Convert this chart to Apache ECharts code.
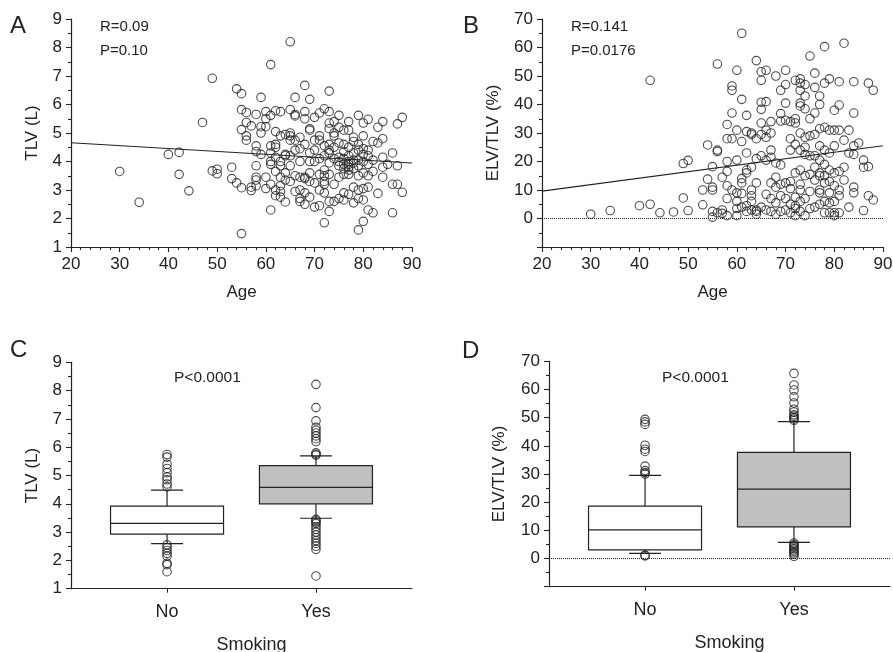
<!DOCTYPE html>
<html>
<head>
<meta charset="utf-8">
<script src="https://cdn.jsdelivr.net/npm/echarts@6/dist/echarts.min.js"></script>
<style>
  html, body { margin: 0; padding: 0; background: #fff; }
  #main { width: 893px; height: 652px; }
</style>
</head>
<body>
<div id="main"></div>
<script>
// ---- data ----
// panel A: age vs TLV (L)
var tlvByAge = [
  [30,3.65],[34,2.57],[40,4.25],[42.2,4.32],[42.2,3.55],[44.2,2.97],[47,5.37],[49,6.92],[49,3.67],[50,3.73],
  [50,3.57],[53,3.8],[53,3.4],[54,3.25],[54,6.55],[55,6.38],[55,3.08],[55,1.47],[55,5.82],[55,5.12],
  [56,5.72],[56,5.37],[56,4.9],[56,4.75],[57,5.25],[57,3.1],[57,2.98],[58,5.65],[58,4.55],[58,4.35],
  [58,3.85],[58,3.45],[58,3.35],[58,3.15],[59,6.25],[59,5.22],[59,5.0],[59,4.25],[60,5.75],[60,5.5],
  [60,5.22],[60,3.45],[60,3.05],[61,7.4],[61,5.62],[61,4.55],[61,4.3],[61,4.0],[61,3.9],[61,3.2],
  [61,2.3],[62,5.78],[62,5.05],[62,4.6],[62,4.5],[62,3.65],[62,3.0],[62,2.8],[63,5.75],[63,4.9],
  [63,4.0],[63,3.85],[63,3.45],[63,2.95],[63,2.75],[64,4.25],[64,4.2],[64,3.6],[64,3.35],[64,2.58],
  [65,8.2],[65,5.82],[65,5.0],[65,4.9],[65,4.75],[65,4.2],[65,3.85],[66,6.25],[66,5.6],[66,5.65],
  [66,4.4],[66,3.5],[66,2.95],[67,4.85],[67,4.45],[67,4.0],[67,3.0],[67,2.7],[67,2.6],[68,6.67],
  [68,5.75],[68,5.5],[68,4.6],[68,3.45],[68,3.4],[68,2.9],[68,2.5],[69,6.18],[69,5.15],[69,5.1],
  [69,4.3],[69,4.0],[69,3.6],[69,3.3],[69,2.75],[70,5.55],[70,4.4],[70,4.0],[70,3.25],[70,2.4],
  [71,5.7],[71,4.9],[71,4.75],[71,4.1],[71,3.0],[71,2.45],[72,5.85],[72,4.55],[72,3.7],[72,3.5],
  [72,3.3],[72,3.2],[72,2.9],[72,1.85],[73,6.47],[73,5.75],[73,5.35],[73,5.15],[73,4.6],[73,4.4],
  [73,4.3],[73,3.95],[73,2.6],[73,2.25],[74,5.4],[74,5.0],[74,4.9],[74,4.5],[74,3.2],[74,2.6],
  [75,5.62],[75,5.2],[75,4.65],[75,4.15],[75,4.0],[75,3.85],[75,2.7],[76,5.1],[76,4.6],[76,4.1],
  [76,3.9],[76,3.75],[76,2.9],[76,2.65],[77,5.4],[77,5.1],[77,4.5],[77,4.0],[77,3.9],[77,3.8],
  [77,3.7],[77,3.55],[77,2.85],[78,4.85],[78,4.7],[78,4.3],[78,4.05],[78,3.95],[78,3.1],[78,2.55],
  [79,5.62],[79,4.6],[79,4.4],[79,4.05],[79,3.5],[79,3.0],[79,2.7],[79,1.6],[80,5.35],[80,4.9],
  [80,4.25],[80,4.0],[80,3.6],[80,3.05],[80,2.65],[80,1.9],[81,5.48],[81,4.4],[81,4.2],[81,3.9],
  [81,3.5],[81,3.1],[81,2.3],[82,4.7],[82,4.05],[82,3.65],[82,2.2],[83,5.2],[83,4.65],[83,2.88],
  [84,5.4],[84,4.8],[84,4.15],[84,3.8],[84,3.45],[85,3.9],[86,4.3],[86,3.2],[86,2.2],[87,5.32],
  [87,3.85],[87,3.2],[88,5.55],[88,2.92],
  [62,4.15],[64,4.95],[66,4.75],[70,4.75],[72,4.2],[74,4.1],[76,4.35],[77,4.2],[78,3.75],[79,3.85],
  [80,4.45],[76,3.55],[75,3.45],[73,3.55],[71,3.55],[67,3.45],[65,3.3],[63,3.15]
];
var tlvFit = [[20, 4.66], [90, 3.95]];

// panel B: age vs ELV/TLV (%)
var elvByAge = [
  [30,1.5],[34,2.8],[40,4.5],[42.2,5.0],[42.2,48.5],[44.2,2.0],[47,2.3],[49,7.2],[49,19.3],[50,20.4],
  [50,2.8],[53,4.8],[53,10.0],[54,25.8],[54,13.8],[55,18.2],[55,11.0],[55,10.0],[55,2.5],[55,0.5],
  [56,54.2],[56,24.0],[56,23.5],[56,2.0],[57,14.5],[57,3.0],[57,1.8],[58,33.0],[58,28.0],[58,20.0],
  [58,16.5],[58,11.5],[58,7.0],[58,1.0],[59,46.5],[59,45.0],[59,37.0],[59,28.0],[59,10.0],[60,52.0],
  [60,31.0],[60,20.5],[60,9.0],[60,6.0],[60,3.5],[60,1.0],[61,65.0],[61,41.8],[61,27.0],[61,14.0],
  [61,12.5],[61,8.8],[62,36.2],[62,30.5],[62,23.0],[62,17.0],[62,16.0],[62,4.5],[62,2.5],[63,30.0],
  [63,29.5],[63,10.0],[63,8.0],[63,6.0],[63,3.0],[64,55.4],[64,28.0],[64,21.0],[64,12.5],[64,2.5],
  [64,1.5],[65,51.5],[65,48.5],[65,40.8],[65,38.3],[65,33.5],[65,29.5],[65,22.0],[65,4.0],[66,52.0],
  [66,41.0],[66,31.0],[66,28.5],[66,20.5],[66,3.0],[67,34.0],[67,30.0],[67,24.0],[67,21.5],[67,12.5],
  [67,7.0],[67,2.5],[68,50.0],[68,19.5],[68,14.5],[68,11.0],[68,5.5],[68,1.5],[69,45.0],[69,36.8],
  [69,34.2],[69,18.8],[69,12.0],[69,8.0],[69,2.5],[70,52.0],[70,47.0],[70,40.5],[70,34.5],[70,12.5],
  [70,3.0],[71,34.0],[71,28.0],[71,24.0],[71,13.0],[71,5.0],[71,2.0],[72,48.5],[72,35.0],[72,33.5],
  [72,16.0],[72,7.5],[72,3.5],[72,1.0],[73,49.0],[73,47.5],[73,45.0],[73,40.5],[73,39.5],[73,30.0],
  [73,24.0],[73,17.0],[73,10.0],[73,6.0],[73,2.5],[74,47.0],[74,43.0],[74,38.5],[74,28.5],[74,25.0],
  [74,22.5],[74,15.0],[74,7.0],[74,1.0],[75,57.0],[75,35.0],[75,29.0],[75,22.0],[75,9.5],[75,3.5],
  [76,51.0],[76,46.0],[76,37.0],[76,22.0],[76,18.0],[76,13.5],[76,4.0],[77,43.0],[77,40.0],[77,31.5],
  [77,25.5],[77,16.0],[77,15.0],[77,10.0],[77,9.0],[77,5.0],[78,60.3],[78,47.5],[78,32.0],[78,24.0],
  [78,19.0],[78,12.5],[78,6.0],[78,2.0],[79,49.0],[79,23.0],[79,17.0],[79,13.0],[79,9.0],[79,5.5],
  [79,2.0],[80,38.0],[80,31.0],[80,25.5],[80,16.0],[80,6.0],[80,2.0],[80,1.0],[81,48.0],[81,39.8],
  [81,31.0],[81,10.0],[81,8.0],[81,2.0],[82,61.5],[82,27.5],[82,18.0],[82,13.5],[83,31.0],[83,23.0],
  [83,4.0],[84,48.0],[84,37.0],[84,25.5],[84,22.5],[84,11.0],[84,9.0],[85,26.5],[86,20.5],[86,18.0],
  [86,2.8],[87,47.5],[87,18.2],[87,8.0],[88,45.0],[88,6.5],
  [64,3.0],[66,8.5],[70,7.0],[71,10.5],[72,26.0],[75,15.5],[76,29.5],[77,20.5],[79,31.0],[80,11.5],
  [81,16.5],[72,4.5],[73,12.0],[78,15.0],[63,18.0],[61,4.0]
];
var elvFit = [[20, 9.6], [90, 25.5]];

// panels C/D: smoking groups
var smoking = ['No', 'Yes'];
// [group, lower whisker, Q1, median, Q3, upper whisker]
var tlvBoxes = [[0, 2.59, 2.93, 3.31, 3.92, 4.48], [1, 3.49, 4.0, 4.58, 5.35, 5.69]];
var tlvOutliers = [
  [0,5.74],[0,5.65],[0,5.4],[0,5.25],[0,5.1],[0,4.95],[0,4.85],[0,4.7],[0,4.6],
  [0,2.55],[0,2.45],[0,2.35],[0,2.25],[0,2.15],[0,1.9],[0,1.85],[0,1.6],
  [1,8.22],[1,7.4],[1,6.93],[1,6.7],[1,6.6],[1,6.5],[1,6.4],[1,6.3],[1,6.2],[1,5.8],[1,5.75],[1,5.72],
  [1,3.45],[1,3.4],[1,3.35],[1,3.3],[1,3.2],[1,3.1],[1,3.0],[1,2.9],[1,2.8],[1,2.7],[1,2.6],[1,2.5],[1,2.39],[1,1.45]
];
var elvBoxes = [[0, 1.8, 3.1, 10.2, 18.6, 29.5], [1, 5.7, 11.25, 24.6, 37.7, 48.6]];
var elvOutliers = [
  [0,49.4],[0,48.5],[0,47.6],[0,40.2],[0,38.8],[0,38.0],[0,32.8],[0,31.2],[0,30.5],[0,30.0],
  [0,1.2],[0,0.95],
  [1,65.7],[1,61.6],[1,59.8],[1,57.4],[1,55.2],[1,53.0],[1,52.0],[1,51.0],[1,50.5],[1,50.0],[1,49.5],[1,49.0],
  [1,5.5],[1,5.0],[1,4.5],[1,4.0],[1,3.5],[1,3.0],[1,2.5],[1,2.0],[1,1.5],[1,0.8]
];

// ---- chart ----
var INK = '#222';
var FONT = '"Liberation Sans", Arial, Helvetica, sans-serif';
var boxFills = ['#ffffff', '#c0c0c0'];

var myChart = echarts.init(document.getElementById('main'));

function valueAxis(idx, min, max, interval, minorSplit, extra) {
  var ax = {
    gridIndex: idx, type: 'value', min: min, max: max, interval: interval,
    axisLine: { show: true, onZero: false, lineStyle: { color: INK, width: 1.2 } },
    axisTick: { show: true, length: 5, lineStyle: { color: INK, width: 1.1 } },
    minorTick: { show: true, splitNumber: minorSplit, length: 3, lineStyle: { color: INK, width: 1.1 } },
    splitLine: { show: false },
    minorSplitLine: { show: false },
    axisLabel: { color: INK, fontFamily: FONT, fontSize: 17, margin: 9 },
    nameLocation: 'middle',
    nameTextStyle: { color: INK, fontFamily: FONT, fontSize: 17 }
  };
  return Object.assign(ax, extra || {});
}

function groupAxis(idx) {
  return {
    gridIndex: idx, type: 'value', min: -0.645, max: 1.645,
    axisLine: { show: true, onZero: false, lineStyle: { color: INK, width: 1.2 } },
    axisTick: { show: true, length: 4, customValues: [0, 1], lineStyle: { color: INK } },
    splitLine: { show: false },
    axisLabel: {
      customValues: [0, 1], color: INK, fontFamily: FONT, fontSize: 18, margin: 14,
      formatter: function (v) { return smoking[Math.round(v)]; }
    },
    name: 'Smoking', nameLocation: 'middle', nameGap: 47,
    nameTextStyle: { color: INK, fontFamily: FONT, fontSize: 18, padding: [0, 0, 0, 20] }
  };
}

var hideMinus10 = function (v) { return v < 0 ? '' : v; };

function renderBox(params, api) {
  var x = api.value(0);
  var lo = api.coord([x, api.value(1)]);
  var q1 = api.coord([x, api.value(2)]);
  var med = api.coord([x, api.value(3)]);
  var q3 = api.coord([x, api.value(4)]);
  var hi = api.coord([x, api.value(5)]);
  var cx = q1[0], half = 56.5, cap = 16;
  var st = { stroke: INK, lineWidth: 1.2 };
  return {
    type: 'group',
    children: [
      { type: 'line', shape: { x1: cx, y1: q3[1], x2: cx, y2: hi[1] }, style: st },
      { type: 'line', shape: { x1: cx, y1: q1[1], x2: cx, y2: lo[1] }, style: st },
      { type: 'line', shape: { x1: cx - cap, y1: hi[1], x2: cx + cap, y2: hi[1] }, style: st },
      { type: 'line', shape: { x1: cx - cap, y1: lo[1], x2: cx + cap, y2: lo[1] }, style: st },
      { type: 'rect', shape: { x: cx - half, y: q3[1], width: half * 2, height: q1[1] - q3[1] },
        style: { fill: boxFills[params.dataIndex], stroke: INK, lineWidth: 1.2 } },
      { type: 'line', shape: { x1: cx - half, y1: med[1], x2: cx + half, y2: med[1] }, style: st }
    ]
  };
}

var circle = {
  type: 'scatter', symbol: 'circle', symbolSize: 8.5,
  itemStyle: { color: 'transparent', borderColor: INK, borderWidth: 1.1 },
  silent: true
};

var zeroLine = {
  silent: true, symbol: ['none', 'none'], label: { show: false },
  lineStyle: { color: INK, type: 'dotted', width: 1 },
  data: [{ yAxis: 0 }]
};

function text(x, y, s, size) {
  return { type: 'text', x: x, y: y, style: { text: s, fill: INK, font: size + 'px ' + FONT, verticalAlign: 'top' } };
}

option = {
  backgroundColor: '#fff',
  animation: false,
  grid: [
    { left: 71, top: 19, width: 341, height: 228, outerBoundsMode: 'none' },
    { left: 542, top: 19, width: 341, height: 228, outerBoundsMode: 'none' },
    { left: 71, top: 362.3, width: 341, height: 226.4, outerBoundsMode: 'none' },
    { left: 549, top: 361.3, width: 341, height: 225.4, outerBoundsMode: 'none' }
  ],
  xAxis: [
    valueAxis(0, 20, 90, 10, 5, { name: 'Age', nameGap: 37 }),
    valueAxis(1, 20, 90, 10, 5, { name: 'Age', nameGap: 37 }),
    groupAxis(2),
    groupAxis(3)
  ],
  yAxis: [
    valueAxis(0, 1, 9, 1, 2, { name: 'TLV (L)', nameGap: 30 }),
    valueAxis(1, -10, 70, 10, 2, { name: 'ELV/TLV (%)', nameGap: 40 }),
    valueAxis(2, 1, 9, 1, 2, { name: 'TLV (L)', nameGap: 30 }),
    valueAxis(3, -10, 70, 10, 2, { name: 'ELV/TLV (%)', nameGap: 41 })
  ],
  graphic: [
    text(10, 14.5, 'A', 24), text(463, 14.5, 'B', 24),
    text(10, 338.5, 'C', 24), text(462, 339, 'D', 24),
    text(100, 19.5, 'R=0.09', 15), text(100, 43.8, 'P=0.10', 15),
    text(571, 19.5, 'R=0.141', 15), text(571, 43.8, 'P=0.0176', 15),
    text(174, 370, 'P<0.0001', 15.5), text(662, 370, 'P<0.0001', 15.5)
  ],
  series: [
    Object.assign({}, circle, { xAxisIndex: 0, yAxisIndex: 0, data: tlvByAge }),
    { type: 'line', xAxisIndex: 0, yAxisIndex: 0, data: tlvFit, symbol: 'none', silent: true,
      lineStyle: { color: INK, width: 1.1 } },
    Object.assign({}, circle, { xAxisIndex: 1, yAxisIndex: 1, data: elvByAge, markLine: zeroLine }),
    { type: 'line', xAxisIndex: 1, yAxisIndex: 1, data: elvFit, symbol: 'none', silent: true,
      lineStyle: { color: INK, width: 1.1 } },
    { type: 'custom', xAxisIndex: 2, yAxisIndex: 2, data: tlvBoxes, renderItem: renderBox,
      encode: { x: 0, y: [1, 2, 3, 4, 5] }, silent: true },
    Object.assign({}, circle, { xAxisIndex: 2, yAxisIndex: 2, data: tlvOutliers }),
    { type: 'custom', xAxisIndex: 3, yAxisIndex: 3, data: elvBoxes, renderItem: renderBox,
      encode: { x: 0, y: [1, 2, 3, 4, 5] }, silent: true },
    Object.assign({}, circle, { xAxisIndex: 3, yAxisIndex: 3, data: elvOutliers, markLine: zeroLine })
  ]
};
option.yAxis[1].axisLabel.formatter = hideMinus10;
option.yAxis[3].axisLabel.formatter = hideMinus10;

myChart.setOption(option);
</script>
</body>
</html>
